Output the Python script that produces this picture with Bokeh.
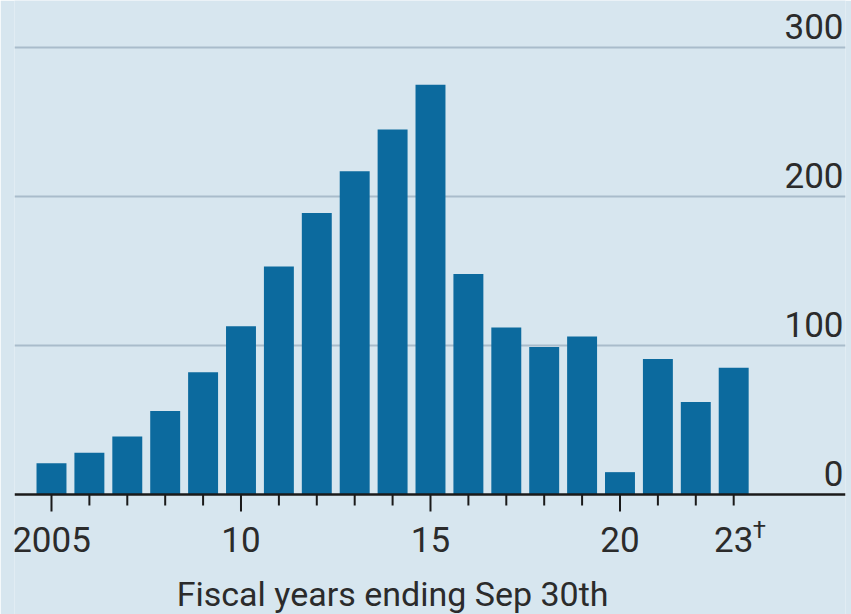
from bokeh.plotting import figure
from bokeh.models import FixedTicker, Range1d, ColumnDataSource, Span
from bokeh.core.properties import value
from bokeh.embed import file_html
from bokeh.resources import INLINE

years = list(range(2005, 2024))
counts = [21, 28, 39, 56, 82, 113, 153, 189, 217, 245, 275, 148, 112, 99, 106, 15, 91, 62, 85]
y_ticks = [0, 100, 200, 300]
y_tick_labels = ["0", "100", "200", "300"]
x_major = [2005, 2010, 2015, 2020]
x_label_years = [2005, 2010, 2015, 2020, 2023]
x_labels = ["2005", "10", "15", "20", "23"]
footnote_mark = "\u2020"
x_title = "Fiscal years ending Sep 30th"

BG = "#d7e6ef"
BAR = "#0c6a9e"
GRID = "#a9bccb"
INK = "#2b2b2b"
FONT = "Roboto"
FS = "35px"

PX_PER_UNIT = 1.49          # vertical pixels per unit on the value scale
BASE_PX = 494               # pixel row of the zero line
H = 614
x0, x1 = 2004.024, 2025.95
y_end = BASE_PX / PX_PER_UNIT
y_start = -(H - BASE_PX) / PX_PER_UNIT

p = figure(width=851, height=H, output_backend="svg", toolbar_location=None,
           x_range=Range1d(x0, x1), y_range=Range1d(y_start, y_end),
           x_axis_location=None, y_axis_location=None,
           min_border_left=14, min_border_right=6,
           min_border_top=0, min_border_bottom=0)
p.background_fill_color = BG
p.border_fill_color = BG
p.outline_line_color = None
p.xgrid.visible = False
p.ygrid.ticker = FixedTicker(ticks=y_ticks[1:])
p.ygrid.grid_line_color = GRID
p.ygrid.grid_line_width = 2

src = ColumnDataSource(dict(x=years, top=counts))
p.vbar(x="x", top="top", width=0.79, bottom=0, source=src,
       fill_color=BAR, line_color=None)

# zero line
p.add_layout(Span(location=0, dimension="width", line_color="#1a1a1a", line_width=2.5))

# tick marks: long at the labelled 5-year marks, short elsewhere
tick_len = [(17 if y in x_major else 11) / PX_PER_UNIT for y in years]
p.segment(x0=years, y0=[0] * len(years), x1=years, y1=[-t for t in tick_len],
          line_color="#1a1a1a", line_width=2)

# x tick labels
p.text(x=x_label_years, y=[0] * len(x_label_years), text=x_labels,
       text_align="center", text_baseline="alphabetic", y_offset=45,
       text_font=value(FONT), text_font_size=FS, text_color=INK)
p.text(x=[x_label_years[-1]], y=[0], text=[footnote_mark],
       text_align="left", text_baseline="alphabetic", y_offset=35, x_offset=19,
       text_font=value(FONT), text_font_size="24px", text_color=INK)

# x title
p.text(x=[(years[0] + years[-1]) / 2], y=[0], text=[x_title],
       text_align="center", text_baseline="alphabetic", y_offset=99,
       text_font=value(FONT), text_font_size="34px", text_color=INK)

# right-side value labels above gridlines
lab_src = ColumnDataSource(dict(x=[x1] * len(y_ticks), y=y_ticks, t=y_tick_labels))
p.text(x="x", y="y", text="t", source=lab_src, text_align="right",
       text_baseline="alphabetic", y_offset=-21, x_offset=-2,
       text_font=value(FONT), text_font_size=FS, text_color=INK)

open("out.html", "w").write(file_html(p, INLINE))
